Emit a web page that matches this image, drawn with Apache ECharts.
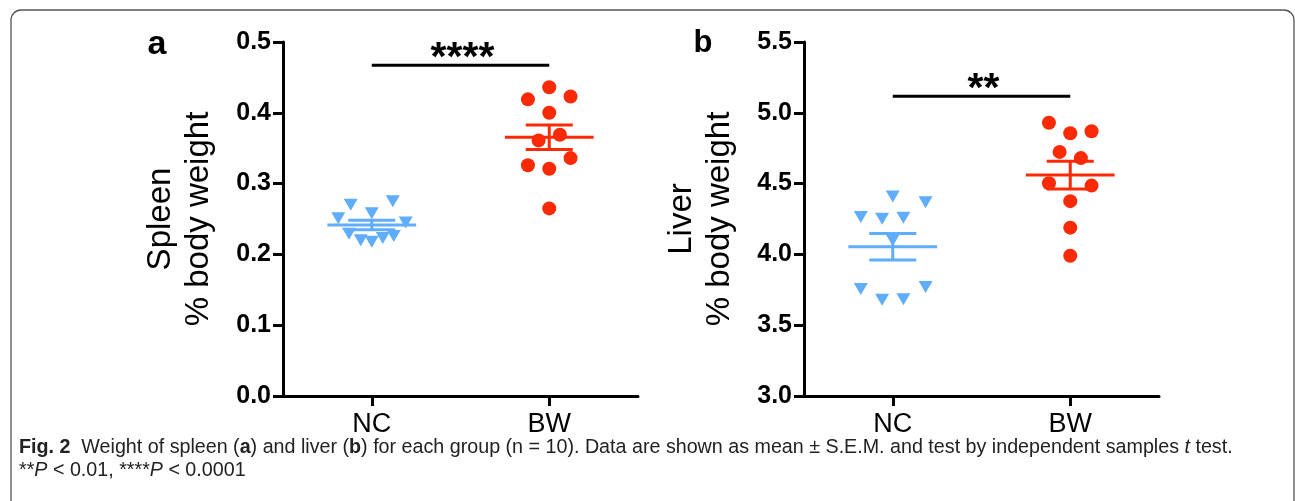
<!DOCTYPE html>
<html>
<head>
<meta charset="utf-8">
<script src="https://cdn.jsdelivr.net/npm/echarts@6/dist/echarts.min.js"></script>
<style>
html,body{margin:0;padding:0;background:#fff;}
#chart{width:1295px;height:501px;}
</style>
</head>
<body>
<div id="chart"></div>
<script>
// ---------- data ----------
const categories = ['NC', 'BW'];
const spleenNC = [0.270, 0.275, 0.251, 0.258, 0.245, 0.229, 0.220, 0.218, 0.223, 0.226];
const spleenBW = [0.436, 0.419, 0.423, 0.400, 0.361, 0.369, 0.336, 0.326, 0.321, 0.265];
const liverNC = [4.409, 4.369, 4.264, 4.252, 4.259, 4.100, 3.755, 3.680, 3.684, 3.769];
const liverBW = [4.930, 4.856, 4.870, 4.724, 4.680, 4.502, 4.486, 4.376, 4.189, 3.990];
const spleenTicks = { min: 0, max: 0.5, interval: 0.1 };
const liverTicks = { min: 3, max: 5.5, interval: 0.5 };
const spleenSig = '****';
const liverSig = '**';
const spleenSigLevel = 0.467;
const liverSigLevel = 5.117;

// horizontal scatter (jitter) layout, in category-width units
const jitterSpleenNC = [-0.237, 0.237, -0.377, 0, 0.383, -0.256, -0.124, 0, 0.124, 0.248];
const jitterSpleenBW = [0, -0.24, 0.24, 0, -0.12, 0.12, 0.24, -0.24, 0, 0];
const jitterLiverNC = [0, 0.37, -0.36, -0.12, 0.12, 0, -0.36, -0.12, 0.12, 0.37];
const jitterLiverBW = [-0.24, 0, 0.24, -0.12, 0.12, -0.24, 0.24, 0, 0, 0];

// ---------- helpers ----------
const BLUE = '#5fadfb';
const RED = '#fb2a06';
const FONT = "'Liberation Sans', Arial, sans-serif";
const CAP_FONT = "'Liberation Sans', Arial, sans-serif";
const catPos = i => 1 + 2 * i;
function mean(a) { return a.reduce((s, v) => s + v, 0) / a.length; }
function sem(a) {
  const m = mean(a);
  const v = a.reduce((s, x) => s + (x - m) * (x - m), 0) / (a.length - 1);
  return Math.sqrt(v) / Math.sqrt(a.length);
}
function pts(vals, jit, ci) { return vals.map((v, i) => [catPos(ci) + jit[i], v]); }

function errRender(params, api) {
  const x = api.value(0), m = api.value(1), s = api.value(2);
  const color = api.visual('color');
  const a = api.coord([x - 0.5, m]), b = api.coord([x + 0.5, m]);
  const u = api.coord([x, m + s]), d = api.coord([x, m - s]);
  const cu1 = api.coord([x - 0.265, m + s]), cu2 = api.coord([x + 0.265, m + s]);
  const cd1 = api.coord([x - 0.265, m - s]), cd2 = api.coord([x + 0.265, m - s]);
  const st = { stroke: color, lineWidth: 3 };
  return {
    type: 'group',
    children: [
      { type: 'line', shape: { x1: a[0], y1: a[1], x2: b[0], y2: b[1] }, style: st },
      { type: 'line', shape: { x1: u[0], y1: u[1], x2: d[0], y2: d[1] }, style: st },
      { type: 'line', shape: { x1: cu1[0], y1: cu1[1], x2: cu2[0], y2: cu2[1] }, style: st },
      { type: 'line', shape: { x1: cd1[0], y1: cd1[1], x2: cd2[0], y2: cd2[1] }, style: st }
    ]
  };
}
function sigRender(params, api) {
  const x1 = api.value(0), x2 = api.value(1), y = api.value(2);
  const p1 = api.coord([x1, y]), p2 = api.coord([x2, y]);
  return {
    type: 'group',
    children: [
      { type: 'line', shape: { x1: p1[0], y1: p1[1], x2: p2[0], y2: p2[1] }, style: { stroke: '#000', lineWidth: 3 } },
      { type: 'text', x: (p1[0] + p2[0]) / 2 + 2, y: p1[1] - 7,
        style: { text: params.seriesIndex === 2 ? spleenSig : liverSig, fill: '#000', font: "bold 41px " + FONT, align: 'center', verticalAlign: 'middle' } }
    ]
  };
}

function xAxis(gi) {
  return {
    type: 'value', gridIndex: gi, min: 0, max: 4, interval: 1,
    axisLine: { show: true, lineStyle: { color: '#000', width: 3 } },
    axisTick: { show: true, length: 10, lineStyle: { color: '#000', width: 3 }, customValues: [1, 3] },
    axisLabel: { customValues: [1, 3], formatter: v => categories[(v - 1) / 2], color: '#000', fontSize: 27, fontFamily: FONT, margin: 15 },
    splitLine: { show: false }
  };
}
function yAxis(gi, t, name, fmt) {
  return {
    type: 'value', gridIndex: gi, min: t.min, max: t.max, interval: t.interval,
    name: name, nameLocation: 'middle', nameGap: 65,
    nameTextStyle: { fontSize: 33, fontFamily: FONT, color: '#000', lineHeight: 38 },
    axisLine: { show: true, onZero: false, lineStyle: { color: '#000', width: 3 } },
    axisTick: { show: true, length: 10, lineStyle: { color: '#000', width: 3 } },
    axisLabel: { formatter: v => v.toFixed(fmt), color: '#000', fontSize: 25, fontWeight: 'bold', fontFamily: FONT, margin: 12 },
    splitLine: { show: false }
  };
}

const chart = echarts.init(document.getElementById('chart'), null, { renderer: 'canvas' });
chart.setOption({
  animation: false,
  backgroundColor: '#fff',
  grid: [
    { left: 283, top: 42, width: 355, height: 354 },
    { left: 804, top: 42, width: 355, height: 354 }
  ],
  xAxis: [xAxis(0), xAxis(1)],
  yAxis: [
    yAxis(0, spleenTicks, 'Spleen\n% body weight', 1),
    yAxis(1, liverTicks, 'Liver\n% body weight', 1)
  ],
  graphic: [
    { type: 'rect', shape: { x: 11, y: 10, width: 1283, height: 530, r: 10 }, style: { fill: 'none', stroke: '#555', lineWidth: 1.3 }, silent: true },
    { type: 'text', x: 157, y: 45, style: { text: 'a', font: "bold 34px " + FONT, fill: '#000', align: 'center', verticalAlign: 'middle' } },
    { type: 'text', x: 703, y: 43, style: { text: 'b', font: "bold 31px " + FONT, fill: '#000', align: 'center', verticalAlign: 'middle' } },
    { type: 'text', x: 19, y: 448,
      style: {
        text: '{b|Fig. 2}  Weight of spleen ({b|a}) and liver ({b|b}) for each group (n = 10). Data are shown as mean ± S.E.M. and test by independent samples {i|t} test.',
        font: "19.7px " + CAP_FONT, fill: '#222', verticalAlign: 'middle',
        rich: {
          b: { fontWeight: 'bold', fontSize: 19.7, fontFamily: CAP_FONT, fill: '#222' },
          i: { fontStyle: 'italic', fontSize: 19.7, fontFamily: CAP_FONT, fill: '#222' }
        }
      } },
    { type: 'text', x: 19, y: 471,
      style: {
        text: '**{i|P} < 0.01, ****{i|P} < 0.0001',
        font: "19.7px " + CAP_FONT, fill: '#222', verticalAlign: 'middle',
        rich: {
          i: { fontStyle: 'italic', fontSize: 19.7, fontFamily: CAP_FONT, fill: '#222' }
        }
      } }
  ],
  series: [
    { type: 'scatter', xAxisIndex: 0, yAxisIndex: 0, symbol: 'triangle', symbolRotate: 180, symbolSize: [14, 12], itemStyle: { color: BLUE, opacity: 1 }, data: pts(spleenNC, jitterSpleenNC, 0), z: 3 },
    { type: 'scatter', xAxisIndex: 0, yAxisIndex: 0, symbol: 'circle', symbolSize: 14, itemStyle: { color: RED, opacity: 1 }, data: pts(spleenBW, jitterSpleenBW, 1), z: 3 },
    { type: 'custom', xAxisIndex: 0, yAxisIndex: 0, renderItem: sigRender, data: [[catPos(0), catPos(1), spleenSigLevel]], z: 4 },
    { type: 'custom', xAxisIndex: 0, yAxisIndex: 0, renderItem: errRender, itemStyle: { color: BLUE }, data: [[catPos(0), mean(spleenNC), sem(spleenNC)]], z: 4 },
    { type: 'custom', xAxisIndex: 0, yAxisIndex: 0, renderItem: errRender, itemStyle: { color: RED }, data: [[catPos(1), mean(spleenBW), sem(spleenBW)]], z: 4 },
    { type: 'scatter', xAxisIndex: 1, yAxisIndex: 1, symbol: 'triangle', symbolRotate: 180, symbolSize: [14, 12], itemStyle: { color: BLUE, opacity: 1 }, data: pts(liverNC, jitterLiverNC, 0), z: 3 },
    { type: 'scatter', xAxisIndex: 1, yAxisIndex: 1, symbol: 'circle', symbolSize: 14, itemStyle: { color: RED, opacity: 1 }, data: pts(liverBW, jitterLiverBW, 1), z: 3 },
    { type: 'custom', xAxisIndex: 1, yAxisIndex: 1, renderItem: sigRender, data: [[catPos(0), catPos(1), liverSigLevel]], z: 4 },
    { type: 'custom', xAxisIndex: 1, yAxisIndex: 1, renderItem: errRender, itemStyle: { color: BLUE }, data: [[catPos(0), mean(liverNC), sem(liverNC)]], z: 4 },
    { type: 'custom', xAxisIndex: 1, yAxisIndex: 1, renderItem: errRender, itemStyle: { color: RED }, data: [[catPos(1), mean(liverBW), sem(liverBW)]], z: 4 }
  ]
});
</script>
</body>
</html>
